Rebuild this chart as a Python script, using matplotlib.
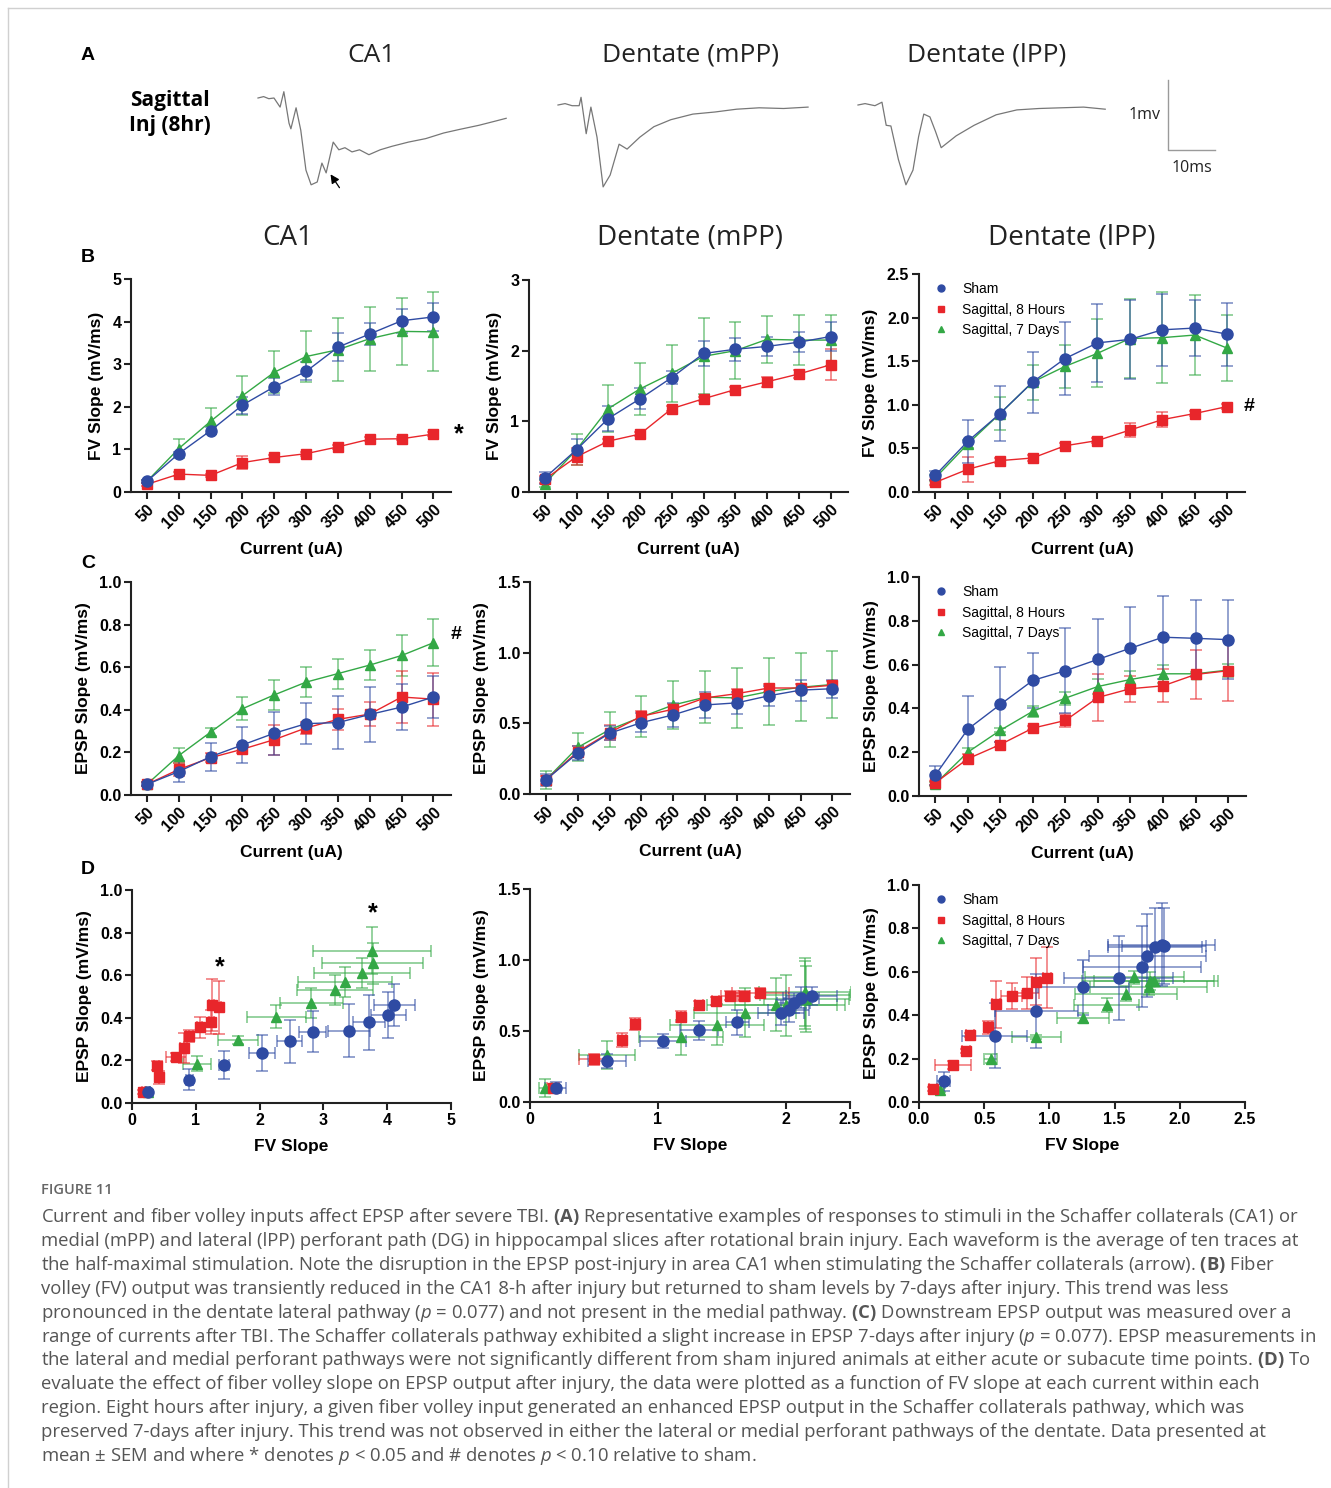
import numpy as np
import matplotlib.pyplot as plt
from matplotlib.lines import Line2D

# ---------------- data ----------------
currents = [50, 100, 150, 200, 250, 300, 350, 400, 450, 500]
groups = ["Sham", "Sagittal, 8 Hours", "Sagittal, 7 Days"]
regions = ["CA1", "Dentate (mPP)", "Dentate (lPP)"]

# FV slope (mV/ms), order: sham, 8 h, 7 d
fv_ca1 = [[0.25, 0.90, 1.44, 2.04, 2.47, 2.83, 3.40, 3.71, 4.02, 4.11],
          [0.18, 0.42, 0.39, 0.69, 0.81, 0.90, 1.06, 1.24, 1.25, 1.36],
          [0.25, 1.02, 1.66, 2.26, 2.81, 3.18, 3.34, 3.60, 3.77, 3.76]]
fv_ca1_sem = [[0.03, 0.05, 0.08, 0.20, 0.20, 0.21, 0.33, 0.25, 0.28, 0.32],
              [0.03, 0.04, 0.04, 0.15, 0.05, 0.05, 0.04, 0.04, 0.04, 0.04],
              [0.03, 0.22, 0.31, 0.46, 0.49, 0.60, 0.74, 0.75, 0.79, 0.93]]
fv_mpp = [[0.20, 0.60, 1.04, 1.32, 1.62, 1.96, 2.02, 2.06, 2.12, 2.20],
          [0.18, 0.50, 0.72, 0.82, 1.18, 1.32, 1.45, 1.56, 1.67, 1.80],
          [0.12, 0.60, 1.18, 1.46, 1.68, 1.92, 2.00, 2.16, 2.15, 2.15]]
fv_mpp_sem = [[0.08, 0.15, 0.18, 0.15, 0.09, 0.18, 0.16, 0.13, 0.14, 0.20],
              [0.05, 0.12, 0.03, 0.03, 0.03, 0.03, 0.03, 0.07, 0.05, 0.22],
              [0.05, 0.22, 0.33, 0.37, 0.40, 0.54, 0.40, 0.33, 0.35, 0.36]]
fv_lpp = [[0.19, 0.58, 0.90, 1.26, 1.53, 1.71, 1.75, 1.86, 1.88, 1.81],
          [0.11, 0.26, 0.36, 0.39, 0.53, 0.59, 0.71, 0.83, 0.90, 0.98],
          [0.16, 0.55, 0.90, 1.26, 1.44, 1.59, 1.76, 1.77, 1.80, 1.65]]
fv_lpp_sem = [[0.05, 0.25, 0.32, 0.35, 0.42, 0.45, 0.45, 0.41, 0.32, 0.36],
              [0.03, 0.14, 0.03, 0.03, 0.03, 0.03, 0.08, 0.09, 0.03, 0.03],
              [0.03, 0.05, 0.19, 0.20, 0.25, 0.39, 0.45, 0.52, 0.46, 0.38]]

# EPSP slope (mV/ms)
epsp_ca1 = [[0.05, 0.11, 0.18, 0.235, 0.29, 0.335, 0.34, 0.378, 0.413, 0.46],
            [0.05, 0.12, 0.175, 0.215, 0.26, 0.315, 0.355, 0.38, 0.46, 0.45],
            [0.05, 0.185, 0.295, 0.405, 0.47, 0.53, 0.57, 0.61, 0.655, 0.715]]
epsp_ca1_sem = [[0.01, 0.05, 0.065, 0.085, 0.10, 0.095, 0.125, 0.128, 0.11, 0.097],
                [0.01, 0.03, 0.02, 0.02, 0.07, 0.03, 0.05, 0.055, 0.12, 0.125],
                [0.01, 0.035, 0.02, 0.055, 0.07, 0.07, 0.07, 0.07, 0.095, 0.11]]
epsp_mpp = [[0.10, 0.29, 0.43, 0.505, 0.56, 0.63, 0.645, 0.695, 0.735, 0.745],
            [0.10, 0.30, 0.435, 0.55, 0.60, 0.68, 0.71, 0.75, 0.75, 0.77],
            [0.10, 0.33, 0.455, 0.545, 0.63, 0.685, 0.68, 0.725, 0.755, 0.775]]
epsp_mpp_sem = [[0.04, 0.05, 0.05, 0.065, 0.085, 0.09, 0.08, 0.07, 0.075, 0.065],
                [0.03, 0.04, 0.05, 0.04, 0.04, 0.03, 0.03, 0.03, 0.03, 0.03],
                [0.065, 0.10, 0.125, 0.145, 0.17, 0.185, 0.215, 0.235, 0.24, 0.24]]
epsp_lpp = [[0.095, 0.305, 0.418, 0.528, 0.572, 0.624, 0.675, 0.725, 0.72, 0.714],
            [0.06, 0.17, 0.235, 0.31, 0.345, 0.45, 0.49, 0.503, 0.555, 0.572],
            [0.055, 0.20, 0.30, 0.387, 0.447, 0.50, 0.532, 0.558, 0.558, 0.575]]
epsp_lpp_sem = [[0.043, 0.15, 0.17, 0.125, 0.195, 0.185, 0.19, 0.19, 0.175, 0.18],
                [0.01, 0.02, 0.01, 0.01, 0.03, 0.107, 0.06, 0.075, 0.11, 0.14],
                [0.01, 0.02, 0.01, 0.025, 0.03, 0.035, 0.04, 0.04, 0.01, 0.03]]

# representative waveforms (time ms, voltage mV relative to baseline)
ca1_t = [0, 1.2, 2.3, 3.4, 4.7, 5.5, 6.6, 7.0, 8.1, 9.1, 10.2, 11.3, 12.6, 13.6, 14.5, 16.0,
         17.2, 18.5, 20.0, 21.6, 23.6, 26.0, 28.5, 32.0, 35.7, 39.5, 42.8, 47.0, 50.5, 52.8]
ca1_v = [0, 0.02, -0.01, 0, -0.13, 0.09, -0.36, -0.44, -0.14, -0.46, -1.03, -1.24, -1.20,
         -0.93, -1.07, -0.63, -0.74, -0.71, -0.77, -0.74, -0.81, -0.74, -0.69, -0.63, -0.58,
         -0.50, -0.45, -0.39, -0.33, -0.29]
mpp_t = [0, 1.5, 3.0, 4.5, 4.9, 6.0, 7.0, 8.3, 9.6, 11.1, 13.0, 14.7, 17.4, 20.4, 24.0, 28.7,
         33.4, 38.0, 42.8, 48.0, 53.2]
mpp_v = [0, 0.02, -0.01, -0.01, 0.11, -0.41, -0.03, -0.46, -1.17, -1.00, -0.56, -0.63, -0.46,
         -0.31, -0.21, -0.13, -0.10, -0.06, -0.04, -0.05, -0.03]
lpp_t = [0, 1.5, 3.6, 5.1, 6.0, 7.0, 8.6, 10.2, 11.7, 12.9, 14.0, 15.3, 16.5, 17.7, 20.9,
         24.7, 29.4, 33.8, 38.5, 43.2, 48.0, 52.6]
lpp_v = [0, 0.02, -0.01, 0.04, -0.29, -0.30, -0.78, -1.14, -0.93, -0.45, -0.13, -0.17, -0.38,
         -0.61, -0.44, -0.29, -0.14, -0.07, -0.05, -0.04, -0.03, -0.06]

caption_lines = [
    r"Current and fiber volley inputs affect EPSP after severe TBI. $\mathbf{(A)}$ Representative examples of responses to stimuli in the Schaffer collaterals (CA1) or",
    r"medial (mPP) and lateral (lPP) perforant path (DG) in hippocampal slices after rotational brain injury. Each waveform is the average of ten traces at",
    r"the half-maximal stimulation. Note the disruption in the EPSP post-injury in area CA1 when stimulating the Schaffer collaterals (arrow). $\mathbf{(B)}$ Fiber",
    r"volley (FV) output was transiently reduced in the CA1 8-h after injury but returned to sham levels by 7-days after injury. This trend was less",
    r"pronounced in the dentate lateral pathway ($\mathit{p}$ = 0.077) and not present in the medial pathway. $\mathbf{(C)}$ Downstream EPSP output was measured over a",
    r"range of currents after TBI. The Schaffer collaterals pathway exhibited a slight increase in EPSP 7-days after injury ($\mathit{p}$ = 0.077). EPSP measurements in",
    r"the lateral and medial perforant pathways were not significantly different from sham injured animals at either acute or subacute time points. $\mathbf{(D)}$ To",
    r"evaluate the effect of fiber volley slope on EPSP output after injury, the data were plotted as a function of FV slope at each current within each",
    r"region. Eight hours after injury, a given fiber volley input generated an enhanced EPSP output in the Schaffer collaterals pathway, which was",
    r"preserved 7-days after injury. This trend was not observed in either the lateral or medial perforant pathways of the dentate. Data presented at",
    r"mean ± SEM and where * denotes $\mathit{p}$ < 0.05 and # denotes $\mathit{p}$ < 0.10 relative to sham.",
]

# ---------------- style ----------------
plt.rcParams['font.family'] = ['Liberation Sans', 'DejaVu Sans']
plt.rcParams['mathtext.fontset'] = 'custom'
plt.rcParams['mathtext.rm'] = 'Open Sans:normal'
plt.rcParams['mathtext.it'] = 'Open Sans:italic:normal'
plt.rcParams['mathtext.bf'] = 'Open Sans:bold'

colors = ["#2f4ba3", "#e8262b", "#33a845"]
markers = ["o", "s", "^"]
msizes = [8, 7, 7]
draw_order = [2, 1, 0]
SANS2 = ['Open Sans', 'DejaVu Sans']

W, H = 1331, 1488
fig = plt.figure(figsize=(W / 100, H / 100), dpi=100)


def px_axes(l, t, r, b):
    return fig.add_axes([l / W, 1 - b / H, (r - l) / W, (b - t) / H])


def style(ax):
    for s in ['top', 'right']:
        ax.spines[s].set_visible(False)
    for s in ['left', 'bottom']:
        ax.spines[s].set_linewidth(1.5)
        ax.spines[s].set_color('#222222')
    ax.tick_params(width=1.5, length=5, labelsize=11.5, color='#222222', pad=2)
    for lab in ax.get_xticklabels() + ax.get_yticklabels():
        lab.set_fontweight('bold')


def line_panel(ax, means, sems, ymax, yticks, fmt, ylabel):
    xpos = np.arange(len(currents))
    for k in draw_order:
        ax.errorbar(xpos, means[k], yerr=sems[k], fmt='none', ecolor=colors[k],
                    elinewidth=1.2, capsize=4, capthick=1.2, alpha=0.6, zorder=2)
    for k in draw_order:
        ax.plot(xpos, means[k], color=colors[k], lw=1.0, marker=markers[k],
                ms=msizes[k], zorder=3, clip_on=False)
    ax.set_xlim(-0.5, 9.55)
    ax.set_ylim(0, ymax)
    ax.set_yticks(yticks)
    ax.set_yticklabels([fmt % v for v in yticks])
    ax.set_xticks(xpos)
    ax.set_xticklabels(currents, rotation=45, ha='right', rotation_mode='anchor')
    ax.set_xlabel("Current (uA)", fontsize=12.5, fontweight='bold', labelpad=8)
    ax.set_ylabel(ylabel, fontsize=12.5, fontweight='bold', labelpad=6)
    style(ax)


def scatter_panel(ax, fv, fv_sem, ep, ep_sem, xmax, xticks, xlabels, ymax, yticks, fmt):
    for k in draw_order:
        ax.errorbar(fv[k], ep[k], xerr=fv_sem[k], yerr=ep_sem[k], fmt='none',
                    ecolor=colors[k], elinewidth=1.2, capsize=4, capthick=1.2,
                    alpha=0.6, zorder=2)
    for k in draw_order:
        ax.plot(fv[k], ep[k], ls='none', color=colors[k], marker=markers[k],
                ms=msizes[k], zorder=3)
    ax.set_xlim(0, xmax)
    ax.set_ylim(0, ymax)
    ax.set_xticks(xticks)
    ax.set_xticklabels(xlabels)
    ax.set_yticks(yticks)
    ax.set_yticklabels([fmt % v for v in yticks])
    ax.set_xlabel("FV Slope", fontsize=12.5, fontweight='bold', labelpad=8)
    ax.set_ylabel("EPSP Slope (mV/ms)", fontsize=12.5, fontweight='bold', labelpad=6)
    style(ax)


def add_legend(ax):
    handles = [Line2D([], [], ls='none', marker=markers[k], color=colors[k], ms=5)
               for k in range(3)]
    ax.legend(handles, groups, loc='upper left', bbox_to_anchor=(0.0, 1.0),
              frameon=False, prop={'family': 'Liberation Sans', 'size': 10, 'weight': 'normal'},
              handletextpad=0.5, labelspacing=0.45, borderaxespad=0.2)


# ---------------- panel A: waveforms ----------------
axA = px_axes(240, 60, 1240, 200)
axA.set_xlim(0, 1000 / 4.7)
axA.set_ylim(-(200 - 105) / 70, (105 - 60) / 70)
axA.axis('off')
for tt, vv, t0, v0 in [(ca1_t, ca1_v, 18 / 4.7, 0.1),
                       (mpp_t, mpp_v, 318 / 4.7, 0.0),
                       (lpp_t, lpp_v, 618 / 4.7, 0.0)]:
    axA.plot(np.array(tt) + t0, np.array(vv) + v0, color='#777777', lw=0.9)
axA.annotate('', xy=(89 / 4.7, -67 / 70), xytext=(101 / 4.7, -85 / 70),
             arrowprops=dict(arrowstyle='-|>', color='black', lw=0.9, mutation_scale=13))
sb_t, sb_v = 928 / 4.7, -45 / 70
axA.plot([sb_t, sb_t, sb_t + 10], [sb_v + 1, sb_v, sb_v], color='#9a9a9a', lw=1.0)
axA.text(sb_t - 1.5, sb_v + 0.5, "1mv", ha='right', va='center', fontsize=11.5,
         family=SANS2, color='#222222')
axA.text(sb_t + 5, sb_v - 0.25, "10ms", ha='center', va='center', fontsize=11.5,
         family=SANS2, color='#222222')

for x, name in zip([372, 690, 987], regions):
    fig.text(x / W, 1 - 55 / H, name, ha='center', va='center', fontsize=19,
             family=SANS2, color='#222222')
fig.text(170 / W, 1 - 113 / H, "Sagittal\nInj (8hr)", ha='center', va='center',
         fontsize=15, family=SANS2, fontweight='bold', linespacing=1.25)

for x, name in zip([288, 690, 1072], regions):
    fig.text(x / W, 1 - 238 / H, name, ha='center', va='center', fontsize=20,
             family=SANS2, color='#222222')

for lab, y in zip("ABCD", [55, 257, 563, 870]):
    fig.text(88 / W, 1 - y / H, lab, ha='center', va='center', fontsize=14, fontweight='bold')

# ---------------- panel B: FV slope ----------------
axB1 = px_axes(131, 279, 451, 492)
line_panel(axB1, fv_ca1, fv_ca1_sem, 5, [0, 1, 2, 3, 4, 5], "%d", "FV Slope (mV/ms)")
axB1.text(9.65, fv_ca1[1][-1], "*", fontsize=18, fontweight='bold', va='center', clip_on=False)
axB2 = px_axes(529, 280, 848, 492)
line_panel(axB2, fv_mpp, fv_mpp_sem, 3, [0, 1, 2, 3], "%d", "FV Slope (mV/ms)")
axB3 = px_axes(919, 274, 1245, 492)
line_panel(axB3, fv_lpp, fv_lpp_sem, 2.5, [0, 0.5, 1.0, 1.5, 2.0, 2.5], "%.1f", "FV Slope (mV/ms)")
axB3.text(9.5, fv_lpp[1][-1], "#", fontsize=14, fontweight='bold', va='center', clip_on=False)
add_legend(axB3)

# ---------------- panel C: EPSP slope ----------------
axC1 = px_axes(131, 582, 451, 795)
line_panel(axC1, epsp_ca1, epsp_ca1_sem, 1.0, [0, 0.2, 0.4, 0.6, 0.8, 1.0], "%.1f", "EPSP Slope (mV/ms)")
axC1.text(9.55, epsp_ca1[2][-1] + 0.04, "#", fontsize=14, fontweight='bold', va='center', clip_on=False)
axC2 = px_axes(530, 582, 850, 794)
line_panel(axC2, epsp_mpp, epsp_mpp_sem, 1.5, [0, 0.5, 1.0, 1.5], "%.1f", "EPSP Slope (mV/ms)")
axC3 = px_axes(919, 577, 1246, 796)
line_panel(axC3, epsp_lpp, epsp_lpp_sem, 1.0, [0, 0.2, 0.4, 0.6, 0.8, 1.0], "%.1f", "EPSP Slope (mV/ms)")
add_legend(axC3)

# ---------------- panel D: EPSP vs FV ----------------
axD1 = px_axes(132, 890, 451, 1103)
scatter_panel(axD1, fv_ca1, fv_ca1_sem, epsp_ca1, epsp_ca1_sem, 5, [0, 1, 2, 3, 4, 5],
              ["0", "1", "2", "3", "4", "5"], 1.0, [0, 0.2, 0.4, 0.6, 0.8, 1.0], "%.1f")
axD1.text(1.38, 0.635, "*", fontsize=18, fontweight='bold', ha='center', va='center')
axD1.text(3.78, 0.89, "*", fontsize=18, fontweight='bold', ha='center', va='center', clip_on=False)
axD2 = px_axes(530, 889, 850, 1102)
scatter_panel(axD2, fv_mpp, fv_mpp_sem, epsp_mpp, epsp_mpp_sem, 2.5, [0, 1, 2, 2.5],
              ["0", "1", "2", "2.5"], 1.5, [0, 0.5, 1.0, 1.5], "%.1f")
axD3 = px_axes(919, 885, 1245, 1102)
scatter_panel(axD3, fv_lpp, fv_lpp_sem, epsp_lpp, epsp_lpp_sem, 2.5, [0, 0.5, 1.0, 1.5, 2.0, 2.5],
              ["0.0", "0.5", "1.0", "1.5", "2.0", "2.5"], 1.0, [0, 0.2, 0.4, 0.6, 0.8, 1.0], "%.1f")
add_legend(axD3)

# ---------------- caption ----------------
fig.text(41 / W, 1 - 1190 / H, "FIGURE 11", fontsize=10.5, family=SANS2,
         fontweight='semibold', color='#666666', va='center')
for i, line in enumerate(caption_lines):
    fig.text(41 / W, 1 - (1217 + 23.9 * i) / H, line, fontsize=13.3, family=SANS2,
             color='#555555', va='center')

# thin frame lines
fig.add_artist(Line2D([8 / W, 1], [1 - 8 / H, 1 - 8 / H], transform=fig.transFigure,
                      color='#d0d0d0', lw=1))
fig.add_artist(Line2D([8 / W, 8 / W], [0, 1 - 8 / H], transform=fig.transFigure,
                      color='#d0d0d0', lw=1))

fig.savefig("out.png", dpi=100)
